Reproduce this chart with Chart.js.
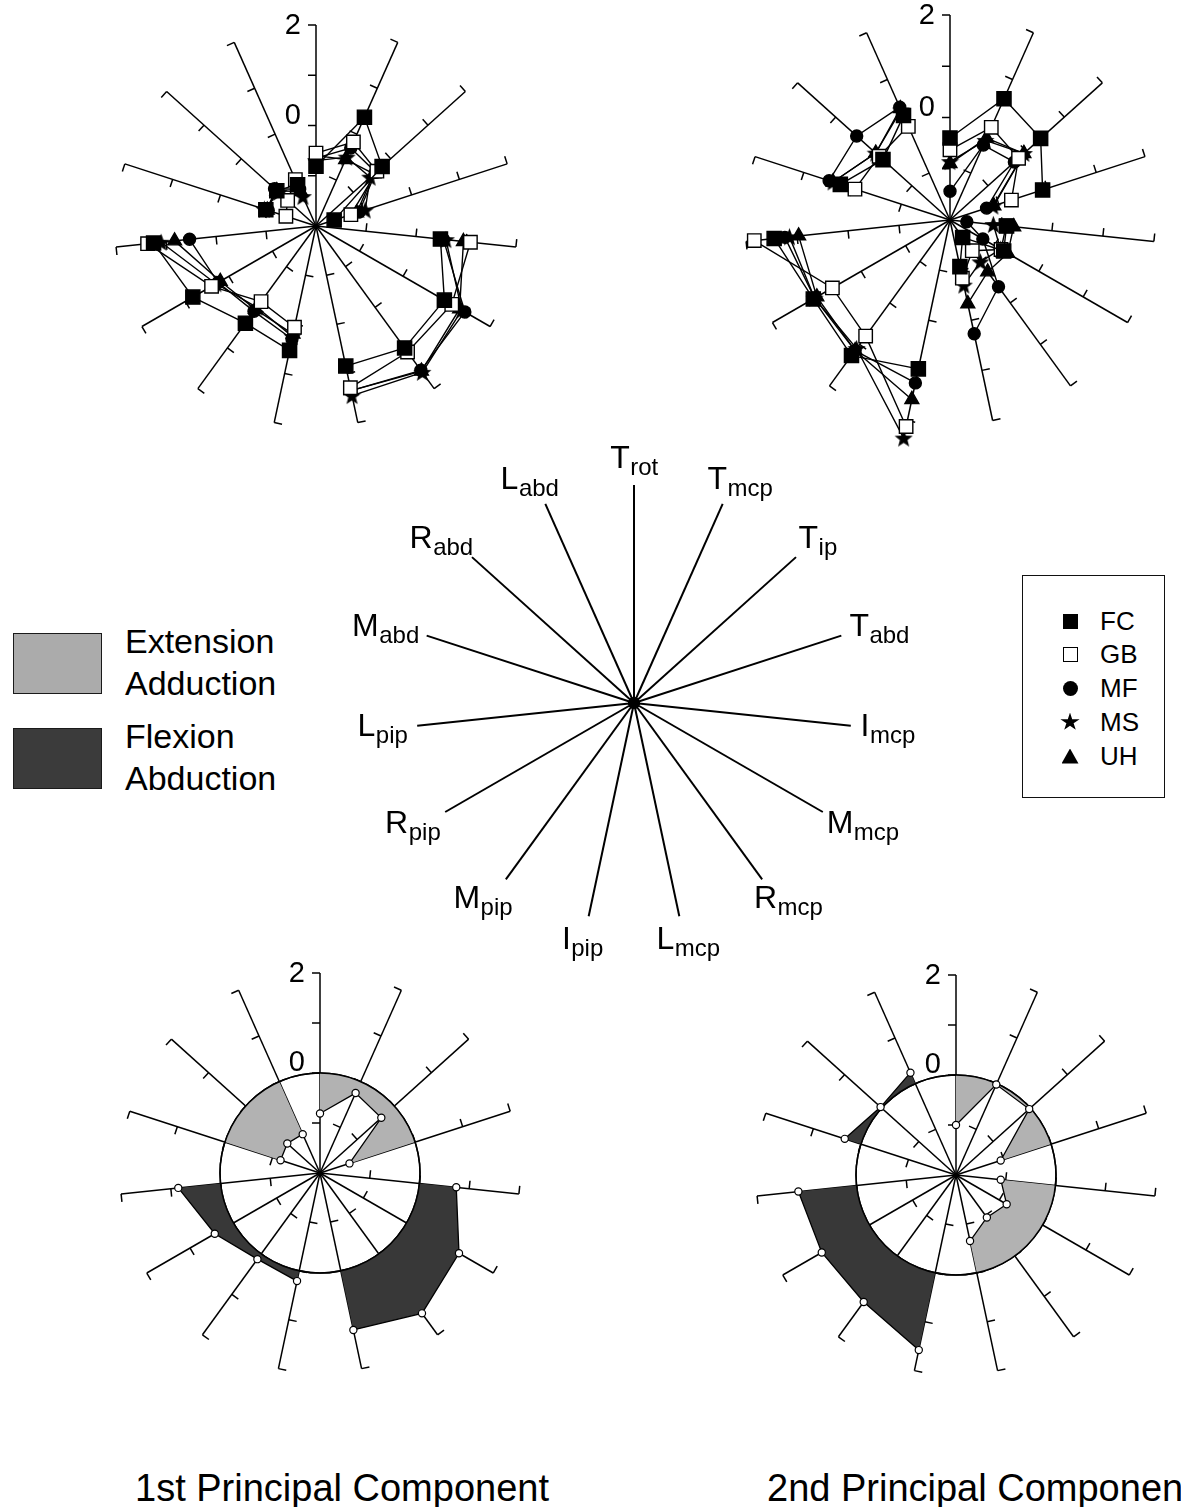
<!DOCTYPE html>
<html>
<head>
<meta charset="utf-8">
<script src="https://cdn.jsdelivr.net/npm/chart.js@4.4.1/dist/chart.umd.min.js"></script>
<style>
  html, body { margin: 0; padding: 0; background: #fff; }
  body { width: 1181px; height: 1507px; position: relative; overflow: hidden;
         font-family: "Liberation Sans", Arial, Helvetica, sans-serif; color: #000; }
  canvas { position: absolute; }
  .abs { position: absolute; white-space: nowrap; }
  .swatch { position: absolute; box-sizing: border-box; border: 1.5px solid #1a1a1a; }
  .shade-text { font-size: 34px; line-height: 42px; }
  .key-box { position: absolute; box-sizing: border-box; border: 1.5px solid #111; }
  .key-row { position: absolute; font-size: 26px; line-height: 30px; }
  .mk { position: absolute; background: #000; }
  .caption { font-size: 38px; line-height: 44px; }
</style>
</head>
<body>
<canvas id="pc1Subjects" width="470" height="540"></canvas>
<canvas id="pc2Subjects" width="470" height="540"></canvas>
<canvas id="jointKey" width="640" height="640"></canvas>
<canvas id="pc1Loadings" width="470" height="470"></canvas>
<canvas id="pc2Loadings" width="470" height="470"></canvas>

<!-- shading legend -->
<div class="swatch" style="left:13px;top:633px;width:89px;height:61px;background:#ababab;"></div>
<div class="abs shade-text" style="left:125px;top:620px;">Extension<br>Adduction</div>
<div class="swatch" style="left:13px;top:728px;width:89px;height:61px;background:#3b3b3b;"></div>
<div class="abs shade-text" style="left:125px;top:715px;">Flexion<br>Abduction</div>

<!-- subject legend -->
<div class="key-box" style="left:1022px;top:575px;width:143px;height:223px;"></div>
<div id="subjectLegend"></div>

<div class="abs caption" style="left:135px;top:1466px;">1st Principal Component</div>
<div class="abs caption" style="left:767px;top:1466px;">2nd Principal Component</div>

<script>
// ---- joints (spokes, clockwise from the top) ----
const joints      = ['Trot','Tmcp','Tip','Tabd','Imcp','Mmcp','Rmcp','Lmcp','Ipip','Mpip','Rpip','Lpip','Mabd','Rabd','Labd'];
const jointLetter = ['T','T','T','T','I','M','R','L','I','M','R','L','M','R','L'];
const jointSub    = ['rot','mcp','ip','abd','mcp','mcp','mcp','mcp','pip','pip','pip','pip','abd','abd','abd'];
// thumb, MCP, PIP and abduction groups: each is drawn as its own polyline
const groupNames  = ['thumb','mcp','pip','abd'];
const jointGroups = [[0,1,2,3],[4,5,6,7],[8,9,10,11],[12,13,14]];

const subjects = ['FC','GB','MF','MS','UH'];

// axis ticks on every spoke, labels on the top spoke
const spokeTickValues  = [-1, 0, 1, 2];
const spokeLabelValues = [2, 0];
const spokeLabelTexts  = ['2', '0'];

// 1st principal component, per subject
const pc1FC = [-0.81, 0.37, -0.23, -1.62, 0.49, 0.95, 1.00, 0.85, 0.53, 0.39, 0.83, 1.25, -0.95, -0.95, -1.10];
const pc1GB = [-0.55, -0.17, -0.37, -1.27, 1.09, 1.12, 1.10, 1.29, 0.06, -0.14, 0.40, 1.37, -1.37, -1.24, -0.99];
const pc1MF = [-0.65, -0.30, -0.40, -1.10, 0.55, 1.42, 1.55, 1.35, 0.30, 0.10, 0.25, 0.53, -1.00, -0.89, -1.20];
const pc1MS = [-0.70, -0.50, -0.55, -0.97, 0.60, 1.35, 1.60, 1.45, 0.25, 0.00, 0.30, 1.10, -0.92, -1.00, -1.36];
const pc1UH = [-0.60, -0.55, -0.45, -1.15, 0.95, 1.30, 1.57, 1.35, 0.20, 0.05, 0.20, 0.83, -0.98, -0.95, -1.25];

// 2nd principal component, per subject
const pc2FC = [-0.40, 0.59, 0.38, -0.10, -0.89, -0.79, -1.58, -1.07, 0.97, 1.27, 1.08, 1.45, 0.25, -0.24, 0.23];
const pc2GB = [-0.63, -0.02, -0.20, -0.74, -0.90, -0.85, -1.26, -0.84, 2.12, 0.80, 0.65, 1.84, -0.05, -0.14, 0.00];
const pc2MF = [-1.44, -0.40, -0.31, -1.25, -1.67, -1.26, -0.39, 0.27, 1.25, 1.15, 1.05, 1.24, 0.48, 0.45, 0.41];
const pc2MS = [-0.86, -0.30, -0.06, -1.12, -1.15, -0.86, -0.99, -0.70, 2.35, 1.10, 1.05, 1.15, 0.40, -0.05, 0.35];
const pc2UH = [-0.90, -0.25, -0.06, -1.10, -0.75, -0.70, -0.75, -0.33, 1.58, 1.15, 1.00, 0.97, 0.40, -0.05, 0.38];

// pooled components
const pc1Pooled = [-0.81, -0.25, -0.35, -1.38, 0.74, 1.21, 1.47, 1.21, 0.21, 0.13, 0.43, 0.85, -1.17, -1.12, -1.15];
const pc2Pooled = [-1.00, -0.02, -0.03, -1.06, -1.10, -0.83, -0.95, -0.65, 1.58, 1.14, 1.10, 1.17, 0.34, 0.03, 0.24];

// key: a single point at the hub
const keyHub = [0,0,0,0,0,0,0,0,0,0,0,0,0,0,0];

// ---- styling ----
const FONT = '"Liberation Sans", Arial, Helvetica, sans-serif';
const TICK = 8;
const LIGHT = '#b2b2b2';
const DARK = '#383838';

function starCanvas(size) {
  const c = document.createElement('canvas');
  c.width = c.height = size;
  const g = c.getContext('2d');
  const R = size / 2, r = R * 0.42;
  g.beginPath();
  for (let k = 0; k < 10; k++) {
    const rad = k % 2 ? r : R;
    const a = -Math.PI / 2 + k * Math.PI / 5;
    g.lineTo(R + rad * Math.cos(a), R + rad * Math.sin(a) + 0.8);
  }
  g.closePath();
  g.fillStyle = '#000';
  g.fill();
  return c;
}
const starMark = starCanvas(19);

const subjectStyle = {
  FC: { pointStyle: 'rect', pointRadius: 10, pointBackgroundColor: '#000' },
  GB: { pointStyle: 'rect', pointRadius: 9.5, pointBackgroundColor: '#fff' },
  MF: { pointStyle: 'circle', pointRadius: 6, pointBackgroundColor: '#000' },
  MS: { pointStyle: starMark, pointRadius: 9, pointBackgroundColor: '#000' },
  UH: { pointStyle: 'triangle', pointRadius: 8, pointBackgroundColor: '#000' }
};

// values of one joint group, other spokes left empty so the polyline breaks
function groupSlice(values, group) {
  return values.map((v, i) => group.includes(i) ? v : null);
}

// ticks along every spoke plus the value labels on the top spoke
const spokeTicks = {
  id: 'spokeTicks',
  beforeDatasetsDraw(chart) {
    const s = chart.scales.r, ctx = chart.ctx;
    ctx.save();
    ctx.strokeStyle = '#000';
    ctx.lineWidth = 1.5;
    for (let i = 0; i < chart.data.labels.length; i++) {
      const a = s.getIndexAngle(i) - Math.PI / 2;
      const tx = Math.sin(a), ty = -Math.cos(a);
      spokeTickValues.forEach(v => {
        const p = s.getPointPositionForValue(i, v);
        ctx.beginPath();
        ctx.moveTo(p.x, p.y);
        ctx.lineTo(p.x + tx * TICK, p.y + ty * TICK);
        ctx.stroke();
      });
    }
    ctx.fillStyle = '#000';
    ctx.font = '29px ' + FONT;
    ctx.textAlign = 'right';
    ctx.textBaseline = 'middle';
    spokeLabelValues.forEach((v, k) => {
      const p = s.getPointPositionForValue(0, v);
      ctx.fillText(spokeLabelTexts[k], p.x - TICK - 7, p.y + (v === 0 ? -10 : 1));
    });
    ctx.restore();
  }
};

// shading between each group's polyline and the zero circle
function zeroShade(values) {
  return {
    id: 'zeroShade',
    beforeDatasetsDraw(chart) {
      const s = chart.scales.r, ctx = chart.ctx;
      const cx = s.xCenter, cy = s.yCenter;
      const r0 = s.getDistanceFromCenterForValue(0);
      jointGroups.forEach(g => {
        const first = g[0], last = g[g.length - 1];
        const path = new Path2D();
        const p0 = s.getPointPositionForValue(first, 0);
        path.moveTo(p0.x, p0.y);
        g.forEach(i => {
          const p = s.getPointPositionForValue(i, values[i]);
          path.lineTo(p.x, p.y);
        });
        const p1 = s.getPointPositionForValue(last, 0);
        path.lineTo(p1.x, p1.y);
        path.arc(cx, cy, r0, s.getIndexAngle(last) - Math.PI / 2, s.getIndexAngle(first) - Math.PI / 2, true);
        path.closePath();

        ctx.save();
        const outside = new Path2D();
        outside.rect(0, 0, chart.width, chart.height);
        outside.arc(cx, cy, r0, 0, Math.PI * 2);
        ctx.clip(outside, 'evenodd');
        ctx.fillStyle = DARK;
        ctx.fill(path);
        ctx.restore();

        ctx.save();
        const inside = new Path2D();
        inside.arc(cx, cy, r0, 0, Math.PI * 2);
        ctx.clip(inside);
        ctx.fillStyle = LIGHT;
        ctx.fill(path);
        ctx.restore();
      });
      ctx.save();
      ctx.beginPath();
      ctx.arc(cx, cy, r0, 0, Math.PI * 2);
      ctx.lineWidth = 1.5;
      ctx.strokeStyle = '#000';
      ctx.stroke();
      ctx.restore();
    }
  };
}

// joint names with subscripts around the key
const jointNames = {
  id: 'jointNames',
  afterDatasetsDraw(chart) {
    const s = chart.scales.r, ctx = chart.ctx;
    const R = s.drawingArea, gap = 10, h = 30;
    ctx.save();
    ctx.fillStyle = '#000';
    ctx.textBaseline = 'alphabetic';
    ctx.textAlign = 'left';
    for (let i = 0; i < jointLetter.length; i++) {
      ctx.font = '32px ' + FONT;
      const wM = ctx.measureText(jointLetter[i]).width;
      ctx.font = '24px ' + FONT;
      const wS = ctx.measureText(jointSub[i]).width;
      const w = wM + wS;
      const a = s.getIndexAngle(i) - Math.PI / 2;
      const dx = Math.cos(a), dy = Math.sin(a);
      const p = s.getPointPosition(i, R + gap);
      const bx = p.x + dx * w / 2, by = p.y + dy * h / 2;
      const x0 = bx - w / 2, base = by + 8;
      ctx.font = '32px ' + FONT;
      ctx.fillText(jointLetter[i], x0, base);
      ctx.font = '24px ' + FONT;
      ctx.fillText(jointSub[i], x0 + wM + 0.5, base + 7);
    }
    ctx.restore();
  }
};

function radialScale(withZeroCircle) {
  return {
    r: {
      min: -2, max: 2,
      startAngle: 0,
      ticks: { display: false, stepSize: 1 },
      pointLabels: { display: false },
      angleLines: { display: true, color: '#000', lineWidth: 1.5 },
      grid: withZeroCircle
        ? { display: true, circular: true, lineWidth: 1.5,
            color: ctx => (ctx.tick && ctx.tick.value === 0) ? '#000' : 'rgba(0,0,0,0)' }
        : { display: false }
    }
  };
}

// padding so that the radial axis gets the wanted radius (width limits it)
function paddingFor(el, radius) {
  const side = (el.width - 2 * radius) / 2;
  return { left: side, right: side, top: side, bottom: side };
}

// move the canvas so the chart hub lands on (cx, cy)
function anchor(chart, cx, cy) {
  const s = chart.scales.r;
  chart.canvas.style.left = (cx - s.xCenter) + 'px';
  chart.canvas.style.top = (cy - s.yCenter) + 'px';
}

const commonOptions = {
  responsive: false, animation: false, devicePixelRatio: 1, events: [],
  plugins: { legend: { display: false }, tooltip: { enabled: false } }
};

function subjectChart(id, cx, cy, radius, series) {
  const el = document.getElementById(id);
  const datasets = [];
  subjects.forEach((name, k) => {
    jointGroups.forEach((g, gi) => {
      datasets.push(Object.assign({
        label: name + ' ' + groupNames[gi],
        data: groupSlice(series[k], g),
        borderColor: '#000',
        borderWidth: 1.4,
        fill: false,
        tension: 0,
        spanGaps: false,
        clip: false,
        pointBorderColor: '#000',
        pointBorderWidth: 1.4
      }, subjectStyle[name]));
    });
  });
  const chart = new Chart(el, {
    type: 'radar',
    data: { labels: joints, datasets },
    options: Object.assign({}, commonOptions, {
      layout: { padding: paddingFor(el, radius) },
      scales: radialScale(false)
    }),
    plugins: [spokeTicks]
  });
  anchor(chart, cx, cy);
  return chart;
}

function pooledChart(id, cx, cy, radius, values) {
  const el = document.getElementById(id);
  const datasets = jointGroups.map((g, gi) => ({
    label: groupNames[gi],
    data: groupSlice(values, g),
    borderColor: '#000',
    borderWidth: 1.3,
    fill: false,
    tension: 0,
    spanGaps: false,
    clip: false,
    pointStyle: 'circle',
    pointRadius: 3.6,
    pointBackgroundColor: '#fff',
    pointBorderColor: '#000',
    pointBorderWidth: 1.2
  }));
  const chart = new Chart(el, {
    type: 'radar',
    data: { labels: joints, datasets },
    options: Object.assign({}, commonOptions, {
      layout: { padding: paddingFor(el, radius) },
      scales: radialScale(true)
    }),
    plugins: [spokeTicks, zeroShade(values)]
  });
  anchor(chart, cx, cy);
  return chart;
}

subjectChart('pc1Subjects', 316, 226, 201, [pc1FC, pc1GB, pc1MF, pc1MS, pc1UH]);
subjectChart('pc2Subjects', 950, 220, 205, [pc2FC, pc2GB, pc2MF, pc2MS, pc2UH]);
pooledChart('pc1Loadings', 320, 1173, 200, pc1Pooled);
pooledChart('pc2Loadings', 956, 1175, 200, pc2Pooled);

// key diagram
(function () {
  const el = document.getElementById('jointKey');
  const chart = new Chart(el, {
    type: 'radar',
    data: {
      labels: joints,
      datasets: [{ label: 'hub', data: keyHub, showLine: false, borderWidth: 0,
                   pointRadius: 5.5, pointBackgroundColor: '#000', pointBorderWidth: 0 }]
    },
    options: Object.assign({}, commonOptions, {
      layout: { padding: paddingFor(el, 218) },
      scales: { r: { min: 0, max: 1, ticks: { display: false }, pointLabels: { display: false },
                     grid: { display: false },
                     angleLines: { display: true, color: '#000', lineWidth: 2 } } }
    }),
    plugins: [jointNames]
  });
  anchor(chart, 634, 703);
})();

// subject legend rows
(function () {
  const holder = document.getElementById('subjectLegend');
  const rowY = [621, 654, 688, 722, 756];
  const markCss = {
    FC: 'width:15px;height:15px;',
    GB: 'width:15px;height:15px;background:#fff;box-sizing:border-box;border:1.5px solid #000;',
    MF: 'width:15px;height:15px;border-radius:50%;',
    MS: 'width:20px;height:19px;clip-path:polygon(50% 0%,61% 35%,98% 35%,68% 57%,79% 91%,50% 70%,21% 91%,32% 57%,2% 35%,39% 35%);',
    UH: 'width:17px;height:15px;clip-path:polygon(50% 0%,100% 100%,0% 100%);'
  };
  const markW = { FC: 15, GB: 15, MF: 15, MS: 20, UH: 17 };
  const markH = { FC: 15, GB: 15, MF: 15, MS: 19, UH: 15 };
  subjects.forEach((name, k) => {
    const y = rowY[k];
    const m = document.createElement('div');
    m.className = 'mk';
    m.style.cssText = markCss[name] + 'left:' + (1070 - markW[name] / 2) + 'px;top:' + (y - markH[name] / 2) + 'px;';
    holder.appendChild(m);
    const t = document.createElement('div');
    t.className = 'key-row';
    t.textContent = name;
    t.style.left = '1100px';
    t.style.top = (y - 15) + 'px';
    holder.appendChild(t);
  });
})();
</script>
</body>
</html>
